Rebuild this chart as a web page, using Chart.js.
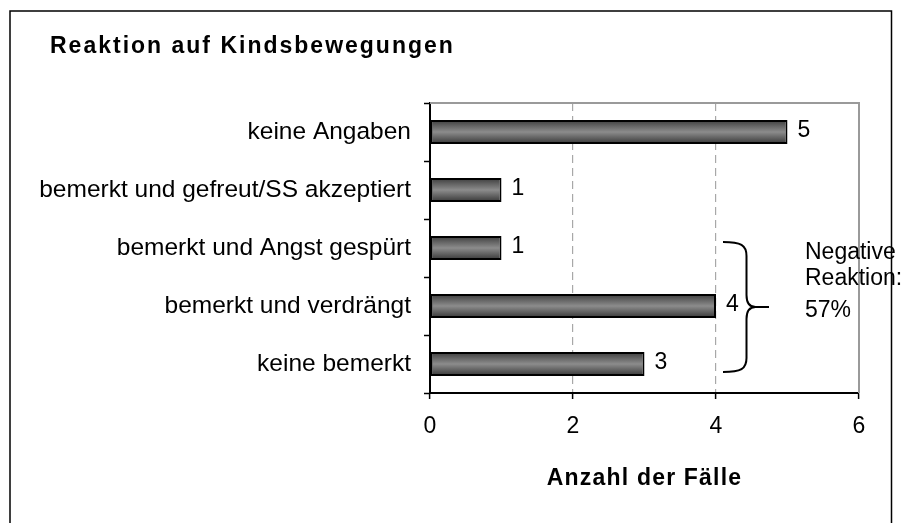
<!DOCTYPE html>
<html>
<head>
<meta charset="utf-8">
<script src="https://cdn.jsdelivr.net/npm/chart.js@4.4.0/dist/chart.umd.min.js"></script>
<style>
  html, body { margin: 0; padding: 0; background: #fff; }
  canvas { display: block; }
</style>
</head>
<body>
<canvas id="chartKinds" width="908" height="523"></canvas>
<script>
const titel = 'Reaktion auf Kindsbewegungen';
const achsenTitel = 'Anzahl der Fälle';
const kategorien = [
  'keine Angaben',
  'bemerkt und gefreut/SS akzeptiert',
  'bemerkt und Angst gespürt',
  'bemerkt und verdrängt',
  'keine bemerkt'
];
const faelle = [5, 1, 1, 4, 3];
const xTicks = [0, 2, 4, 6];
// Kategorien, die von der Klammer zusammengefasst werden
const negativIdx = [2, 3, 4];
const negativText = ['Negative', 'Reaktion:'];

const schrift = '"Liberation Sans", Arial, sans-serif';

const gesamt = faelle.reduce((a, b) => a + b, 0);
const negativAnteil = Math.round(negativIdx.reduce((s, i) => s + faelle[i], 0) / gesamt * 100);

function balkenFarbe(ctx) {
  const chart = ctx.chart;
  if (!chart.chartArea || !chart.scales.y) return '#6a6a6a';
  const yc = chart.scales.y.getPixelForValue(ctx.dataIndex);
  const h = 12;
  const g = chart.ctx.createLinearGradient(0, yc - h, 0, yc + h);
  g.addColorStop(0, '#3c3c3c');
  g.addColorStop(0.5, '#8c8c8c');
  g.addColorStop(1, '#363636');
  return g;
}

const extras = {
  id: 'extras',
  afterDatasetsDraw(chart) {
    const c = chart.ctx;
    const meta = chart.getDatasetMeta(0);
    c.save();
    c.fillStyle = '#000';
    c.font = '23px ' + schrift;
    c.textBaseline = 'middle';
    c.textAlign = 'left';
    meta.data.forEach((bar, i) => {
      c.fillText(String(faelle[i]), bar.x + 10, bar.y - 1);
    });
    c.restore();
  },
  afterDraw(chart) {
    const c = chart.ctx;
    const a = chart.chartArea;
    const xs = chart.scales.x, ys = chart.scales.y;
    c.save();

    // aeusserer Rahmen
    c.strokeStyle = '#000';
    c.lineWidth = 1.5;
    c.beginPath();
    c.moveTo(10, 523);
    c.lineTo(10, 11);
    c.lineTo(891.5, 11);
    c.lineTo(891.5, 523);
    c.stroke();

    // Plotrahmen oben/rechts
    c.strokeStyle = '#9a9a9a';
    c.lineWidth = 2;
    c.beginPath();
    c.moveTo(a.left, a.top);
    c.lineTo(a.right, a.top);
    c.lineTo(a.right, a.bottom);
    c.stroke();

    // Titel
    c.fillStyle = '#000';
    c.font = 'bold 23px ' + schrift;
    c.letterSpacing = '2px';
    c.textAlign = 'left';
    c.textBaseline = 'alphabetic';
    c.fillText(titel, 50, 53);

    // Achsentitel
    c.letterSpacing = '1.2px';
    c.textAlign = 'center';
    c.fillText(achsenTitel, (a.left + a.right) / 2, 485);
    c.letterSpacing = '0px';

    // Klammer
    const xL = xs.getPixelForValue(4) + 7;
    const xM = xL + 23.5;
    const xT = xL + 46;
    const yTop = ys.getPixelForValue(negativIdx[0]) - 6;
    const yBot = ys.getPixelForValue(negativIdx[negativIdx.length - 1]) + 8;
    const yMid = (yTop + yBot) / 2;
    c.strokeStyle = '#000';
    c.lineWidth = 2;
    c.beginPath();
    c.moveTo(xL, yTop);
    c.bezierCurveTo(xL + 18, yTop, xM, yTop + 3, xM, yTop + 14);
    c.lineTo(xM, yMid - 12);
    c.quadraticCurveTo(xM, yMid, xM + 9, yMid);
    c.lineTo(xT, yMid);
    c.moveTo(xM + 9, yMid);
    c.quadraticCurveTo(xM, yMid, xM, yMid + 12);
    c.lineTo(xM, yBot - 14);
    c.bezierCurveTo(xM, yBot - 3, xL + 18, yBot, xL, yBot);
    c.stroke();

    // Beschriftung der Klammer
    c.font = '23px ' + schrift;
    c.textAlign = 'left';
    c.fillText(negativText[0], 805, yMid - 48);
    c.fillText(negativText[1], 805, yMid - 22);
    c.fillText(negativAnteil + '%', 805, yMid + 10);
    c.restore();
  }
};

const chartKinds = new Chart(document.getElementById('chartKinds'), {
  type: 'bar',
  data: {
    labels: kategorien,
    datasets: [{
      data: faelle,
      backgroundColor: balkenFarbe,
      borderColor: '#000',
      borderWidth: 2,
      borderSkipped: false,
      barPercentage: 0.41,
      categoryPercentage: 1.0
    }]
  },
  options: {
    indexAxis: 'y',
    responsive: false,
    animation: false,
    events: [],
    layout: { padding: { left: 0, top: 103, right: 49, bottom: 0 } },
    plugins: {
      legend: { display: false },
      title: { display: false },
      tooltip: { enabled: false }
    },
    scales: {
      x: {
        min: xTicks[0],
        max: xTicks[xTicks.length - 1],
        afterFit(s) { s.height = 130; },
        afterBuildTicks(s) { s.ticks = xTicks.map(v => ({ value: v })); },
        grid: {
          color: ctx => (ctx.tick && ctx.tick.value > xTicks[0] && ctx.tick.value < xTicks[xTicks.length - 1]) ? '#a8a8a8' : 'rgba(0,0,0,0)',
          lineWidth: 1.2,
          tickColor: '#000',
          tickWidth: 1.5,
          tickLength: 6
        },
        border: { color: '#000', width: 2, dash: [8, 5] },
        ticks: { color: '#000', padding: 14, font: { family: schrift, size: 23 } }
      },
      y: {
        afterFit(s) { s.width = 430; },
        grid: {
          drawOnChartArea: false,
          drawTicks: true,
          offset: true,
          tickColor: '#000',
          tickWidth: 1.5,
          tickLength: 6
        },
        border: { color: '#000', width: 2 },
        ticks: { color: '#000', padding: 13, font: { family: schrift, size: 24.5 } }
      }
    }
  },
  plugins: [extras]
});
</script>
</body>
</html>
